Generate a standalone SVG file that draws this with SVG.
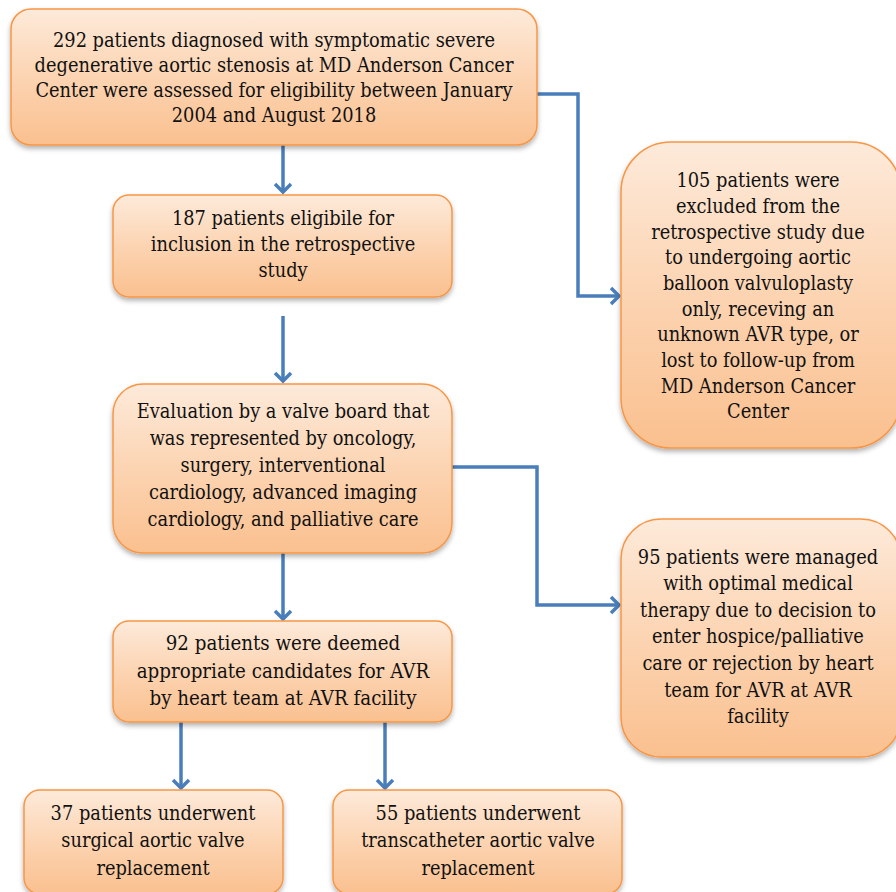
<svg xmlns="http://www.w3.org/2000/svg" width="896" height="892" viewBox="0 0 896 892">
<defs>
<linearGradient id="g" x1="0" y1="0" x2="0" y2="1">
<stop offset="0" stop-color="#FDEADA"/>
<stop offset="0.5" stop-color="#FCD4B2"/>
<stop offset="1" stop-color="#FAC08F"/>
</linearGradient>
<filter id="sh" x="-10%" y="-10%" width="120%" height="130%">
<feDropShadow dx="0" dy="3" stdDeviation="2.5" flood-color="#000" flood-opacity="0.3"/>
</filter>
<marker id="ah" markerUnits="userSpaceOnUse" markerWidth="20" markerHeight="20" refX="14" refY="10" orient="auto" viewBox="0 0 20 20">
<path d="M6,2 L14,10 L6,18" fill="none" stroke="#4A7EBB" stroke-width="3.5"/>
</marker>
</defs>
<style>
.box{fill:url(#g);stroke:#F79646;stroke-width:1.5;filter:url(#sh)}
text{font-family:'DejaVu Serif Condensed','DejaVu Serif',serif;font-stretch:condensed;font-size:19.8px;fill:#111;text-anchor:middle}
.c{fill:none;stroke:#4A7EBB;stroke-width:3.5;marker-end:url(#ah)}
</style>
<rect width="896" height="892" fill="#fff"/>
<g id="connectors">
<path class="c" d="M283,145 V192"/>
<path class="c" d="M537,94 H578 V296 H619"/>
<path class="c" d="M283,316 V381"/>
<path class="c" d="M452,467 H537 V605 H619"/>
<path class="c" d="M283,553 V619"/>
<path class="c" d="M181,722 V788"/>
<path class="c" d="M385,722 V788"/>
</g>
<g id="n1">
<rect class="box" x="11" y="9" width="526" height="136" rx="20"/>
<text><tspan x="274" y="47">292 patients diagnosed with symptomatic severe</tspan><tspan x="274" y="72">degenerative aortic stenosis at MD Anderson Cancer</tspan><tspan x="274" y="97">Center were assessed for eligibility between January</tspan><tspan x="274" y="122">2004 and August 2018</tspan></text>
</g>
<g id="n2">
<rect class="box" x="113" y="195" width="339" height="102" rx="16"/>
<text><tspan x="283" y="225">187 patients eligibile for</tspan><tspan x="283" y="251">inclusion in the retrospective</tspan><tspan x="283" y="277">study</tspan></text>
</g>
<g id="n3">
<rect class="box" x="113" y="384" width="339" height="169" rx="30"/>
<text><tspan x="283" y="418">Evaluation by a valve board that</tspan><tspan x="283" y="445">was represented by oncology,</tspan><tspan x="283" y="472">surgery, interventional</tspan><tspan x="283" y="499">cardiology, advanced imaging</tspan><tspan x="283" y="526">cardiology, and palliative care</tspan></text>
</g>
<g id="n4">
<rect class="box" x="113" y="621" width="339" height="101" rx="16"/>
<text style="font-size:20.3px"><tspan x="283" y="650">92 patients were deemed</tspan><tspan x="283" y="678">appropriate candidates for AVR</tspan><tspan x="283" y="705">by heart team at AVR facility</tspan></text>
</g>
<g id="n5">
<rect class="box" x="24" y="790" width="259" height="104" rx="16"/>
<text><tspan x="153" y="820">37 patients underwent</tspan><tspan x="153" y="847">surgical aortic valve</tspan><tspan x="153" y="875">replacement</tspan></text>
</g>
<g id="n6">
<rect class="box" x="333" y="790" width="289" height="104" rx="16"/>
<text><tspan x="478" y="820">55 patients underwent</tspan><tspan x="478" y="847">transcatheter aortic valve</tspan><tspan x="478" y="875">replacement</tspan></text>
</g>
<g id="n7">
<rect class="box" x="621" y="142" width="280" height="306" rx="50"/>
<text><tspan x="758" y="187">105 patients were</tspan><tspan x="758" y="213">excluded from the</tspan><tspan x="758" y="239">retrospective study due</tspan><tspan x="758" y="264">to undergoing aortic</tspan><tspan x="758" y="290">balloon valvuloplasty</tspan><tspan x="758" y="316">only, receving an</tspan><tspan x="758" y="341">unknown AVR type, or</tspan><tspan x="758" y="367">lost to follow-up from</tspan><tspan x="758" y="393">MD Anderson Cancer</tspan><tspan x="758" y="418">Center</tspan></text>
</g>
<g id="n8">
<rect class="box" x="621" y="519" width="280" height="238" rx="40"/>
<text><tspan x="758" y="564">95 patients were managed</tspan><tspan x="758" y="590">with optimal medical</tspan><tspan x="758" y="617">therapy due to decision to</tspan><tspan x="758" y="643">enter hospice/palliative</tspan><tspan x="758" y="670">care or rejection by heart</tspan><tspan x="758" y="697">team for AVR at AVR</tspan><tspan x="758" y="723">facility</tspan></text>
</g>
</svg>
